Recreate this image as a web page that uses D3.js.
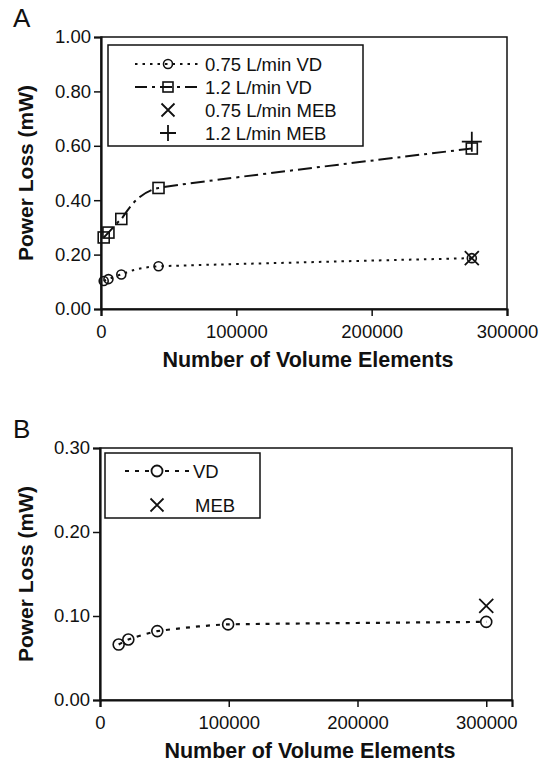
<!DOCTYPE html>
<html>
<head>
<meta charset="utf-8">
<script src="https://cdn.jsdelivr.net/npm/d3@7"></script>
<style>
  body { margin: 0; background: #fff; }
  svg text { font-family: "Liberation Sans", Arial, sans-serif; fill: #111; }
</style>
</head>
<body>
<div id="chart"></div>
<script>
// panel A data
const elementsA = [2000, 5500, 15000, 42500, 274000];
const vd075 = [0.103, 0.110, 0.127, 0.157, 0.187];
const vd12 = [0.263, 0.281, 0.331, 0.445, 0.590];
const mebElementsA = 274000;
const meb075 = 0.187;
const meb12 = 0.615;
const ticksXA = [0, 100000, 200000, 300000];
const ticksYA = [0, 0.2, 0.4, 0.6, 0.8, 1.0];

// panel B data
const elementsB = [14500, 22000, 44500, 99500, 300000];
const vdB = [0.066, 0.072, 0.082, 0.090, 0.093];
const mebElementsB = 300000;
const mebB = 0.112;
const ticksXB = [0, 100000, 200000, 300000];
const ticksYB = [0, 0.1, 0.2, 0.3];

const width = 550, height = 769;

const svg = d3.select("#chart")
              .append("svg")
              .attr("width", width)
              .attr("height", height);

function drawFrame(g, x, y, xTicks, yTicks, top, bottom, label) {
    const left = x.range()[0], right = x.range()[1];

    // box
    g.append("rect")
     .attr("x", left).attr("y", y.range()[1])
     .attr("width", right - left).attr("height", y.range()[0] - y.range()[1])
     .attr("fill", "none").attr("stroke", "#111").attr("stroke-width", 1.5);

    const ax = g.append("g")
                .attr("transform", "translate(0," + bottom + ")")
                .call(d3.axisBottom(x).tickValues(xTicks).tickFormat(d3.format("d")).tickSize(7).tickPadding(9));
    const ay = g.append("g")
                .attr("transform", "translate(" + left + ",0)")
                .call(d3.axisLeft(y).tickValues(yTicks).tickFormat(d3.format(".2f")).tickSize(7).tickPadding(3));

    [ax, ay].forEach(function (a) {
        a.select(".domain").attr("stroke", "#111").attr("stroke-width", 2.2);
        a.selectAll(".tick line").attr("stroke", "#111").attr("stroke-width", 1.5);
        a.selectAll(".tick text")
         .style("font-family", "Liberation Sans, Arial, sans-serif")
         .style("font-size", "18.5px")
         .attr("fill", "#111");
    });

    g.append("text")
     .attr("x", (left + right) / 2 + 4)
     .attr("y", bottom + 58)
     .attr("text-anchor", "middle")
     .style("font-size", "21.5px")
     .style("font-weight", "bold")
     .text("Number of Volume Elements");

    g.append("text")
     .attr("transform", "translate(33," + (top + bottom) / 2 + ")rotate(-90)")
     .attr("text-anchor", "middle")
     .style("font-size", "21px")
     .style("font-weight", "bold")
     .text("Power Loss (mW)");

    g.append("text")
     .attr("x", 13)
     .attr("y", top - 10)
     .style("font-size", "26px")
     .text(label);
}

function circles(g, xs, ys, x, y, r) {
    g.selectAll(null)
     .data(xs)
     .enter()
     .append("circle")
     .attr("cx", function (d) { return x(d); })
     .attr("cy", function (d, i) { return y(ys[i]); })
     .attr("r", r)
     .attr("fill", "none")
     .attr("stroke", "#111")
     .attr("stroke-width", 1.6);
}

function cross(g, cx, cy, s) {
    g.append("path")
     .attr("d", "M" + (cx - s) + "," + (cy - s) + "L" + (cx + s) + "," + (cy + s) +
                "M" + (cx - s) + "," + (cy + s) + "L" + (cx + s) + "," + (cy - s))
     .attr("stroke", "#111").attr("stroke-width", 1.8).attr("fill", "none");
}

function plus(g, cx, cy, s) {
    g.append("path")
     .attr("d", "M" + (cx - s) + "," + cy + "L" + (cx + s) + "," + cy +
                "M" + cx + "," + (cy - s) + "L" + cx + "," + (cy + s))
     .attr("stroke", "#111").attr("stroke-width", 1.8).attr("fill", "none");
}

// ---------- Panel A ----------
const gA = svg.append("g");
const xA = d3.scaleLinear().domain([0, 300000]).range([101, 507]);
const yA = d3.scaleLinear().domain([0, 1]).range([309, 37]);
drawFrame(gA, xA, yA, ticksXA, ticksYA, 37, 309, "A");

const lineA = d3.line()
                .x(function (d) { return xA(d[0]); })
                .y(function (d) { return yA(d[1]); })
                .curve(d3.curveCardinal.tension(0.6));

gA.append("path")
  .attr("d", lineA(d3.zip(elementsA, vd075)))
  .attr("fill", "none").attr("stroke", "#111").attr("stroke-width", 2)
  .attr("stroke-dasharray", "2.5,5");

gA.append("path")
  .attr("d", lineA(d3.zip(elementsA, vd12)))
  .attr("fill", "none").attr("stroke", "#111").attr("stroke-width", 2)
  .attr("stroke-dasharray", "14,5,3,5");

circles(gA, elementsA, vd075, xA, yA, 4.5);

gA.selectAll(null)
  .data(elementsA)
  .enter()
  .append("rect")
  .attr("x", function (d) { return xA(d) - 5.5; })
  .attr("y", function (d, i) { return yA(vd12[i]) - 5.5; })
  .attr("width", 11).attr("height", 11)
  .attr("fill", "none").attr("stroke", "#111").attr("stroke-width", 1.6);

cross(gA, xA(mebElementsA), yA(meb075), 7);
plus(gA, xA(mebElementsA), yA(meb12), 10);

// legend A
const legA = gA.append("g");
legA.append("rect")
    .attr("x", 108).attr("y", 45).attr("width", 255).attr("height", 101)
    .attr("fill", "#fff").attr("stroke", "#111").attr("stroke-width", 1.5);
const legRowsA = [64, 87, 110, 133];
const legTextA = ["0.75 L/min VD", "1.2 L/min VD", "0.75 L/min MEB", "1.2 L/min MEB"];
legA.append("line").attr("x1", 135).attr("x2", 200).attr("y1", legRowsA[0]).attr("y2", legRowsA[0])
    .attr("stroke", "#111").attr("stroke-width", 2).attr("stroke-dasharray", "2.5,5");
legA.append("circle").attr("cx", 168).attr("cy", legRowsA[0]).attr("r", 4.5)
    .attr("fill", "none").attr("stroke", "#111").attr("stroke-width", 1.6);
legA.append("line").attr("x1", 135).attr("x2", 200).attr("y1", legRowsA[1]).attr("y2", legRowsA[1])
    .attr("stroke", "#111").attr("stroke-width", 2).attr("stroke-dasharray", "12,5,3,5");
legA.append("rect").attr("x", 163).attr("y", legRowsA[1] - 5).attr("width", 10).attr("height", 10)
    .attr("fill", "none").attr("stroke", "#111").attr("stroke-width", 1.6);
cross(legA, 168, legRowsA[2], 6.5);
plus(legA, 168, legRowsA[3], 8);
legA.selectAll(null)
    .data(legTextA)
    .enter()
    .append("text")
    .attr("x", 205)
    .attr("y", function (d, i) { return legRowsA[i] + 6.5; })
    .style("font-size", "18.5px")
    .text(function (d) { return d; });

// ---------- Panel B ----------
const gB = svg.append("g");
const xB = d3.scaleLinear().domain([0, 320000]).range([100, 512]);
const yB = d3.scaleLinear().domain([0, 0.3]).range([700, 448]);
drawFrame(gB, xB, yB, ticksXB, ticksYB, 448, 700, "B");

const lineB = d3.line()
                .x(function (d) { return xB(d[0]); })
                .y(function (d) { return yB(d[1]); })
                .curve(d3.curveCardinal.tension(0.6));

gB.append("path")
  .attr("d", lineB(d3.zip(elementsB, vdB)))
  .attr("fill", "none").attr("stroke", "#111").attr("stroke-width", 2.2)
  .attr("stroke-dasharray", "4,6");

circles(gB, elementsB, vdB, xB, yB, 5.5);
cross(gB, xB(mebElementsB), yB(mebB), 7);

// legend B
const legB = gB.append("g");
legB.append("rect")
    .attr("x", 105).attr("y", 453).attr("width", 155).attr("height", 65)
    .attr("fill", "#fff").attr("stroke", "#111").attr("stroke-width", 1.5);
legB.append("line").attr("x1", 125).attr("x2", 192).attr("y1", 471).attr("y2", 471)
    .attr("stroke", "#111").attr("stroke-width", 2.2).attr("stroke-dasharray", "4,6");
legB.append("circle").attr("cx", 157).attr("cy", 471).attr("r", 5.5)
    .attr("fill", "#fff").attr("stroke", "#111").attr("stroke-width", 1.8);
cross(legB, 157, 505, 6.5);
legB.append("text").attr("x", 193).attr("y", 478).style("font-size", "18.5px").text("VD");
legB.append("text").attr("x", 195).attr("y", 512).style("font-size", "18.5px").text("MEB");
</script>
</body>
</html>
